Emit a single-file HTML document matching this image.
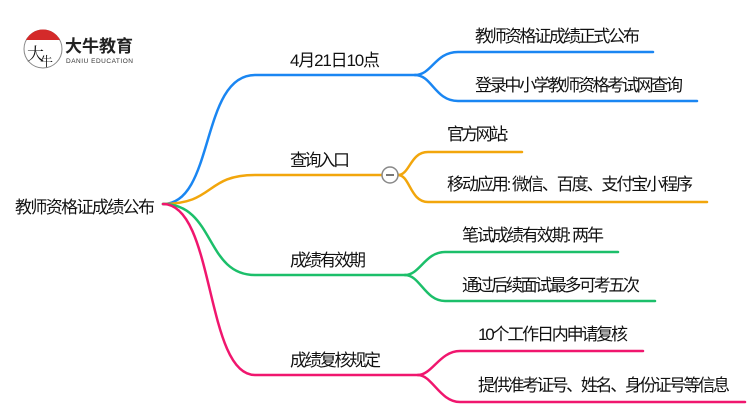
<!DOCTYPE html>
<html><head><meta charset="utf-8"><style>
html,body{margin:0;padding:0;background:#fff;width:750px;height:410px;overflow:hidden}
text{font-family:"Liberation Sans","Noto Sans CJK SC",sans-serif;fill:#111;font-size:17px}
</style></head><body>
<svg width="750" height="410" viewBox="0 0 750 410" xmlns="http://www.w3.org/2000/svg">
<circle cx="43" cy="49" r="19" fill="#fff" stroke="#888" stroke-width="1"/>
<path d="M26 40 A19 19 0 0 1 60 40 Z" fill="#d42a2a"/>
<text x="27" y="60" style="font-size:17px;font-family:'Noto Serif CJK SC',serif">大</text>
<text x="40" y="66" style="font-size:13px;font-family:'Noto Serif CJK SC',serif">牛</text>
<text x="65" y="52" style="font-size:17px;font-weight:bold;fill:#222">大牛教育</text>
<text x="66" y="63" style="font-size:6.5px;fill:#333" textLength="67">DANIU EDUCATION</text>

<g fill="none" stroke-width="2.5" stroke-linecap="round">
<path d="M163 204 C215 204 200 75 255 75 L415 75" stroke="#1a86f2"/>
<path d="M415 75 C432 75 435 52 458 52 L653 52" stroke="#1a86f2"/>
<path d="M415 75 C432 75 435 101 458 101 L697 101" stroke="#1a86f2"/>
<path d="M163 204 C215 204 205 175 255 175 L382 175" stroke="#f2a60c"/>
<path d="M398 175 C410 175 410 152 428 152 L522 152" stroke="#f2a60c"/>
<path d="M398 175 C410 175 410 202 428 202 L707 202" stroke="#f2a60c"/>
<path d="M163 204 C215 204 205 275 255 275 L405 275" stroke="#1cbf6a"/>
<path d="M405 275 C420 275 425 252 445 252 L618 252" stroke="#1cbf6a"/>
<path d="M405 275 C420 275 425 301 445 301 L655 301" stroke="#1cbf6a"/>
<path d="M163 204 C215 204 205 375 255 375 L418 375" stroke="#f0166e"/>
<path d="M418 375 C432 375 440 351 460 351 L643 351" stroke="#f0166e"/>
<path d="M418 375 C432 375 440 402 460 402 L745 402" stroke="#f0166e"/>
</g>
<circle cx="390" cy="175" r="8" fill="#fff" stroke="#888" stroke-width="1.5"/>
<line x1="386" y1="175" x2="394" y2="175" stroke="#777" stroke-width="2"/>

<text x="15" y="213" textLength="140">教师资格证成绩公布</text>
<text x="290" y="66" textLength="90">4月21日10点</text>
<text x="290" y="166" textLength="60">查询入口</text>
<text x="290" y="266" textLength="76">成绩有效期</text>
<text x="290" y="366" textLength="91">成绩复核规定</text>

<text x="475" y="42" textLength="165">教师资格证成绩正式公布</text>
<text x="475" y="91" textLength="208">登录中小学教师资格考试网查询</text>
<text x="447" y="140" textLength="62">官方网站:</text>
<text x="447" y="190" textLength="246">移动应用: 微信、百度、支付宝小程序</text>
<text x="462" y="241" textLength="142">笔试成绩有效期: 两年</text>
<text x="462" y="291" textLength="178">通过后续面试最多可考五次</text>
<text x="478" y="340" textLength="150">10个工作日内申请复核</text>
<text x="478" y="391" textLength="252">提供准考证号、姓名、身份证号等信息</text>
</svg>
</body></html>
